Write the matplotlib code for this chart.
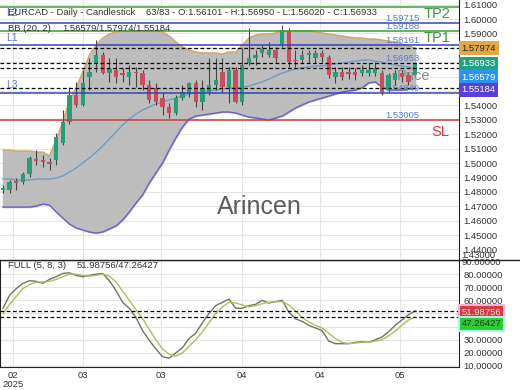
import matplotlib
matplotlib.use("Agg")
import matplotlib.pyplot as plt
from matplotlib.lines import Line2D
import numpy as np

plt.rcParams['font.family'] = ['Liberation Sans', 'DejaVu Sans']

# daily candles (EURCAD)
opens = [1.4812, 1.4812, 1.4875, 1.4868, 1.4924, 1.5028, 1.5021, 1.5007, 1.5021, 1.5139,
         1.5285, 1.5472, 1.5403, 1.5597, 1.5694, 1.5750, 1.5625, 1.5646, 1.5625, 1.5597,
         1.5632, 1.5625, 1.5542, 1.5521, 1.5451, 1.5389, 1.5347, 1.5451, 1.5486, 1.5556,
         1.5424, 1.5493, 1.5542, 1.5632, 1.5528, 1.5646, 1.5424, 1.5694, 1.5729, 1.5764,
         1.5750, 1.5785, 1.5819, 1.5917, 1.5715, 1.5715, 1.5750, 1.5729, 1.5764, 1.5736,
         1.5597, 1.5632, 1.5632, 1.5632, 1.5625, 1.5625, 1.5625, 1.5625, 1.5507, 1.5576,
         1.5625, 1.5611, 1.56101]
closes = [1.4826, 1.4868, 1.4861, 1.4924, 1.5035, 1.5014, 1.5007, 1.4993, 1.5181, 1.5285,
          1.5472, 1.5403, 1.5556, 1.5632, 1.5750, 1.5625, 1.5653, 1.5597, 1.5611, 1.5632,
          1.5625, 1.5542, 1.5438, 1.5424, 1.5389, 1.5347, 1.5451, 1.5493, 1.5556, 1.5424,
          1.5521, 1.5542, 1.5576, 1.5528, 1.5646, 1.5424, 1.5681, 1.5729, 1.5750, 1.5792,
          1.5785, 1.5729, 1.5924, 1.5701, 1.5708, 1.5750, 1.5764, 1.5764, 1.5736, 1.5611,
          1.5632, 1.5597, 1.5618, 1.5611, 1.5646, 1.5646, 1.5660, 1.5493, 1.5611, 1.5625,
          1.5597, 1.5563, 1.56933]
highs = [1.4847, 1.4882, 1.4896, 1.4938, 1.5049, 1.5090, 1.5056, 1.5035, 1.5208, 1.5368,
         1.5528, 1.5563, 1.5646, 1.5729, 1.5854, 1.5771, 1.5729, 1.5729, 1.5660, 1.5681,
         1.5667, 1.5646, 1.5576, 1.5556, 1.5493, 1.5417, 1.5472, 1.5542, 1.5563, 1.5576,
         1.5576, 1.5729, 1.5729, 1.5729, 1.5667, 1.5667, 1.5799, 1.5938, 1.5785, 1.5819,
         1.5840, 1.5806, 1.5958, 1.5938, 1.5785, 1.5785, 1.5785, 1.5785, 1.5785, 1.5750,
         1.5667, 1.5667, 1.5667, 1.5660, 1.5681, 1.5694, 1.5701, 1.5646, 1.5625, 1.5646,
         1.5646, 1.5632, 1.56950]
lows = [1.4792, 1.4792, 1.4812, 1.4854, 1.4903, 1.4986, 1.4972, 1.4951, 1.4986, 1.5125,
        1.5271, 1.5389, 1.5396, 1.5507, 1.5632, 1.5618, 1.5563, 1.5556, 1.5563, 1.5542,
        1.5528, 1.5507, 1.5417, 1.5403, 1.5333, 1.5313, 1.5333, 1.5438, 1.5458, 1.5389,
        1.5368, 1.5472, 1.5507, 1.5493, 1.5417, 1.5417, 1.5403, 1.5681, 1.5681, 1.5736,
        1.5736, 1.5694, 1.5806, 1.5667, 1.5667, 1.5694, 1.5694, 1.5694, 1.5701, 1.5590,
        1.5556, 1.5576, 1.5583, 1.5576, 1.5604, 1.5604, 1.5604, 1.5472, 1.5493, 1.5542,
        1.5563, 1.5542, 1.56020]

# Bollinger bands (20, 2)
bb_upper = [1.5090, 1.5090, 1.5083, 1.5083, 1.5083, 1.5076, 1.5076, 1.5049, 1.5160, 1.5285,
            1.5438, 1.5521, 1.5632, 1.5750, 1.5819, 1.5868, 1.5896, 1.5910, 1.5917, 1.5917,
            1.5917, 1.5917, 1.5917, 1.5917, 1.5910, 1.5882, 1.5840, 1.5806, 1.5785, 1.5771,
            1.5764, 1.5764, 1.5764, 1.5757, 1.5771, 1.5771, 1.5819, 1.5868, 1.5889, 1.5896,
            1.5896, 1.5903, 1.5917, 1.5917, 1.5917, 1.5917, 1.5917, 1.5910, 1.5903, 1.5896,
            1.5889, 1.5882, 1.5875, 1.5868, 1.5868, 1.5861, 1.5861, 1.5854, 1.5847, 1.5840,
            1.5826, 1.5813, 1.57974]
bb_mid = [1.4889, 1.4889, 1.4882, 1.4882, 1.4882, 1.4889, 1.4889, 1.4889, 1.4896, 1.4910,
          1.4938, 1.4965, 1.5000, 1.5035, 1.5076, 1.5118, 1.5167, 1.5215, 1.5264, 1.5306,
          1.5340, 1.5368, 1.5389, 1.5410, 1.5424, 1.5438, 1.5451, 1.5465, 1.5479, 1.5486,
          1.5493, 1.5500, 1.5507, 1.5514, 1.5521, 1.5521, 1.5528, 1.5535, 1.5549, 1.5563,
          1.5583, 1.5604, 1.5625, 1.5639, 1.5653, 1.5660, 1.5667, 1.5674, 1.5674, 1.5681,
          1.5688, 1.5694, 1.5701, 1.5708, 1.5715, 1.5715, 1.5708, 1.5701, 1.5688, 1.5681,
          1.5674, 1.5667, 1.56579]
bb_lower = [1.4694, 1.4694, 1.4694, 1.4694, 1.4694, 1.4701, 1.4715, 1.4708, 1.4660, 1.4618,
            1.4576, 1.4549, 1.4535, 1.4521, 1.4514, 1.4521, 1.4542, 1.4563, 1.4604, 1.4660,
            1.4722, 1.4778, 1.4861, 1.4931, 1.5000, 1.5090, 1.5174, 1.5250, 1.5306, 1.5326,
            1.5333, 1.5340, 1.5347, 1.5354, 1.5354, 1.5347, 1.5333, 1.5319, 1.5313, 1.5306,
            1.5299, 1.5313, 1.5326, 1.5354, 1.5382, 1.5403, 1.5424, 1.5438, 1.5451, 1.5465,
            1.5479, 1.5493, 1.5500, 1.5507, 1.5521, 1.5556, 1.5563, 1.5528, 1.5507, 1.5507,
            1.5507, 1.5514, 1.55184]

# stochastic full (5, 8, 3)
stoch_k = [54, 64, 69, 73, 75, 74.5, 73, 76, 78, 80.5, 81, 79, 78, 79, 80, 80.5, 75, 67.5,
           58.5, 54, 47, 37, 29.5, 23, 17, 16, 20, 24, 31, 35, 43, 50, 56, 58.5, 61, 54, 54,
           56, 57, 60, 58, 59, 60, 51, 46, 44, 41, 39, 37, 29, 27, 27, 27, 28, 28.5, 28, 30,
           32, 36, 41, 45, 49, 51.98756]
stoch_d = [50, 57, 63, 69, 72, 74, 74, 74.5, 76, 78, 80, 80, 79, 78.5, 79, 80, 78.5, 74,
           67, 60, 53, 46, 38, 30, 23, 19, 17.5, 20, 25, 30, 36, 43, 50, 55, 58.5, 58, 56.5,
           55, 56, 57.5, 58.5, 59, 59, 56.5, 52, 47, 43.5, 41, 39, 35, 31, 28, 27, 27.5, 28,
           28, 29, 30, 33, 36.5, 41, 45, 47.26427]

date_labels = ["02\n2025", "03", "03", "04", "04", "05"]
date_ticks = [1.5, 12, 23.8, 36, 47.7, 59.7]

# trade levels
tp2, tp1 = 1.6083, 1.59188
sl = 1.53005
l_levels = [1.59715, 1.58161, 1.54849]
level_labels = [1.59715, 1.59188, 1.58161, 1.56953, 1.54849, 1.53005]

W, H = 520, 390
fig = plt.figure(figsize=(5.2, 3.9), dpi=100)
ax = fig.add_axes([0, 1 - 259 / H, 459 / W, 259 / H])
ax2 = fig.add_axes([0, 1 - 367 / H, 459 / W, 107 / H])

x = np.arange(len(opens))
txt = '#333333'
fs = 6.8

# ---- price panel
ax.fill_between(x, bb_lower, bb_upper, color='#bdbdbd', zorder=1)
ax.plot(x, bb_upper, color='#d4a464', lw=1, zorder=2)
ax.plot(x, bb_lower, color='#6c5fc7', lw=1, zorder=2)
ax.plot(x, bb_mid, color='#6e9bc5', lw=1, zorder=2)

ax.text(59.3, 1.5607, 'Price', color='#8a8a8a', fontsize=10.5, va='center', ha='left', zorder=3.5)

up = np.array(closes) >= np.array(opens)
colors = np.where(up, '#2a9d78', '#cc4c5f')
ax.vlines(x, lows, highs, color='#444444', lw=0.8, zorder=3)
bottoms = np.minimum(opens, closes)
heights = np.maximum(np.abs(np.array(closes) - np.array(opens)), 0.0003)
ax.bar(x, heights, 0.66, bottom=bottoms, color=colors, zorder=4, linewidth=0)

ax.axhline(tp2, color='#3c9c3c', lw=1.1, zorder=5)
ax.axhline(tp1, color='#3c9c3c', lw=1.1, zorder=5)
for lv in l_levels:
    ax.axhline(lv, color='#3346b0', lw=1.1, zorder=5)
ax.axhline(sl, color='#d23a3a', lw=1.1, zorder=5)
for lv in [bb_upper[-1], closes[-1], bb_mid[-1], bb_lower[-1]]:
    ax.axhline(lv, color='black', lw=0.9, ls=(0, (3, 2)), zorder=6)

for lv in level_labels:
    ax.text(60.1, lv, f'{lv:.5f}', color='#5a7bd0', fontsize=fs, va='bottom', ha='center', zorder=6)
ax.text(63.3, tp2, 'TP2', color='#3c9c3c', fontsize=10.5, va='top', ha='left', zorder=6)
ax.text(63.3, tp1, 'TP1', color='#3c9c3c', fontsize=10.5, va='top', ha='left', zorder=6)
ax.text(64.5, sl - 0.0035, 'SL', color='#d23a3a', fontsize=10.5, va='top', ha='left', zorder=6)

ax.text(0.565, 1.4695, 'Arincen', color='#5c5c5c', fontsize=18, ha='center', va='center',
        transform=ax.get_yaxis_transform(), zorder=6)

ax.text(0.013, 1.6042, 'L2', color='#5a7bd0', fontsize=7.5, va='center', transform=ax.get_yaxis_transform(), zorder=6)
ax.text(0.013, 1.5868, 'L1', color='#5a7bd0', fontsize=7.5, va='center', transform=ax.get_yaxis_transform(), zorder=6)
ax.text(0.013, 1.5542, 'L3', color='#5a7bd0', fontsize=7.5, va='center', transform=ax.get_yaxis_transform(), zorder=6)
ax.text(0.018, 1.6042, 'EURCAD - Daily - Candlestick', color=txt, fontsize=fs, va='center',
        transform=ax.get_yaxis_transform(), zorder=7)
ax.text(0.318, 1.6042, '63/83 - O:%.5f - H:%.5f - L:%.5f - C:%.5f' % (opens[-1], highs[-1], lows[-1], closes[-1]),
        color=txt, fontsize=fs, va='center', transform=ax.get_yaxis_transform(), zorder=7)
ax.text(0.018, 1.5931, 'BB (20, 2)', color=txt, fontsize=fs, va='center',
        transform=ax.get_yaxis_transform(), zorder=7)
ax.text(0.135, 1.5931, '%.5f/%.5f/%.5f' % (bb_mid[-1], bb_upper[-1], bb_lower[-1]), color=txt,
        fontsize=fs, va='center', transform=ax.get_yaxis_transform(), zorder=7)

ax.set_xlim(-0.45, 68.6)
ax.set_ylim(1.6132 - 259 / 1440, 1.6132)
price_ticks = [1.44 + 0.01 * k for k in range(18)]
ax.set_yticks(price_ticks)
hidden = {1.55, 1.56, 1.57, 1.58}
ax.set_yticklabels(['' if round(t, 2) in hidden else f'{t:.5f}' for t in price_ticks])
ax.yaxis.tick_right()
ax.tick_params(axis='y', length=0, pad=3, labelsize=fs, labelcolor=txt)
ax.set_xticks(date_ticks)
ax.tick_params(axis='x', length=0, labelbottom=False)
ax.grid(True, color='#e6e6e6', lw=0.8, zorder=0)
ax.set_axisbelow(True)
for s in ['top', 'bottom', 'left']:
    ax.spines[s].set_visible(False)
ax.spines['right'].set_color('#222222')
ax.text(1.006, 1.4358, '1.43000', color=txt, fontsize=fs, va='center', transform=ax.get_yaxis_transform(),
        clip_on=False)

box_vals = [bb_upper[-1], closes[-1], bb_mid[-1], bb_lower[-1]]
box_pos = [1.57974, 1.5688, 1.5597, 1.5507]
box_bg = ['#e3a746', '#21a383', '#2a96ee', '#5b3fd6']
box_fg = ['#222222', 'white', 'white', 'white']
for v, p, bg, fg in zip(box_vals, box_pos, box_bg, box_fg):
    ax.text(1.006, p, f'{v:.5f}', color=fg, fontsize=fs, va='center', ha='left',
            transform=ax.get_yaxis_transform(), clip_on=False, zorder=8,
            bbox=dict(boxstyle='square,pad=0.25', fc=bg, ec='none'))

# ---- stochastic panel
ax2.plot(x, stoch_k, color='#7c6e62', lw=1)
ax2.plot(x, stoch_d, color='#a8c060', lw=1)
ax2.axhline(stoch_k[-1], color='black', lw=0.9, ls=(0, (3, 2)))
ax2.axhline(stoch_d[-1], color='black', lw=0.9, ls=(0, (3, 2)))
ax2.text(0.018, 86.5, 'FULL (5, 8, 3)', color=txt, fontsize=fs, va='center', transform=ax2.get_yaxis_transform())
ax2.text(0.168, 86.5, '%.5f/%.5f' % (stoch_k[-1], stoch_d[-1]), color=txt, fontsize=fs, va='center',
         transform=ax2.get_yaxis_transform())
ax2.set_xlim(-0.45, 68.6)
ax2.set_ylim(90 - 107 / 1.3125 + 0.76, 90.76)
ind_ticks = list(range(10, 90, 10))
ax2.set_yticks(ind_ticks + [90])
ax2.set_yticklabels([f'{t:.5f}' if t not in (40, 50) else '' for t in ind_ticks] + [''])
ax2.yaxis.tick_right()
ax2.tick_params(axis='y', length=0, pad=3, labelsize=fs, labelcolor=txt)
# the 90 label is squeezed under the price scale
ax2.text(1.006, 89.0, '90.00000', color=txt, fontsize=fs, va='center', transform=ax2.get_yaxis_transform(),
         clip_on=False)
ax2.set_xticks(date_ticks)
ax2.set_xticklabels(date_labels)
ax2.tick_params(axis='x', length=0, pad=3, labelsize=fs, labelcolor=txt)
for lbl in ax2.get_xticklabels():
    lbl.set_linespacing(0.95)
ax2.grid(True, color='#e6e6e6', lw=0.8)
ax2.set_axisbelow(True)
ax2.spines['top'].set_visible(False)
for s in ['bottom', 'left', 'right']:
    ax2.spines[s].set_color('#222222')
ax2.text(1.006, 51.1, f'{stoch_k[-1]:.5f}', color='#f4dcdc', fontsize=fs, va='center',
         transform=ax2.get_yaxis_transform(), clip_on=False,
         bbox=dict(boxstyle='square,pad=0.25', fc='#d63a3a', ec='#f6b6d6', lw=1.5))
ax2.text(1.006, 42.0, f'{stoch_d[-1]:.5f}', color='#1a3a1a', fontsize=fs, va='center',
         transform=ax2.get_yaxis_transform(), clip_on=False,
         bbox=dict(boxstyle='square,pad=0.25', fc='#2ecc2e', ec='#a6f2ee', lw=1.5))

# separator between the panels
fig.add_artist(Line2D([0, 1], [1 - 260 / H, 1 - 260 / H], color='#222222', lw=1))

fig.savefig('out.png', dpi=100)
